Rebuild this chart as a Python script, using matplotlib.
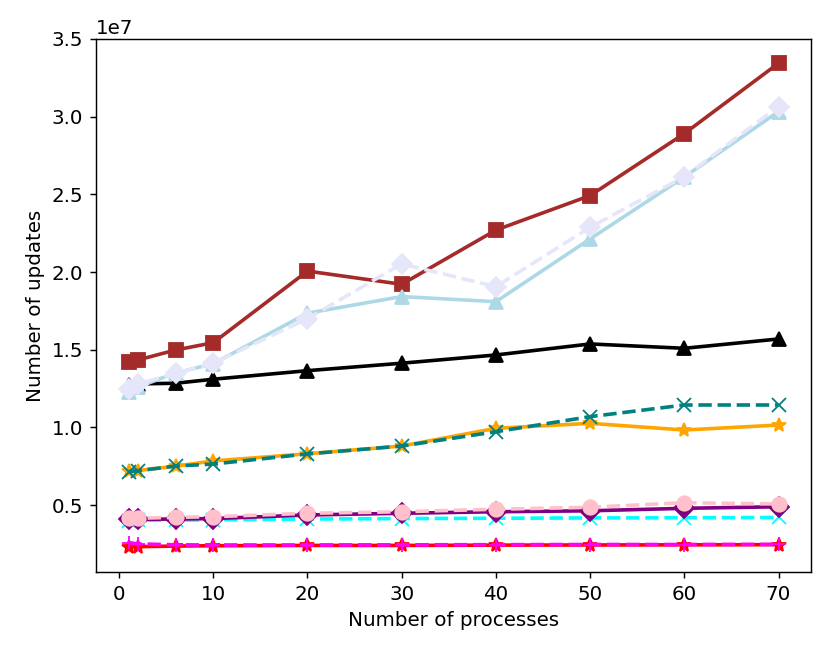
import numpy as np
import matplotlib
matplotlib.use('Agg')
import matplotlib.pyplot as plt

plt.rcParams['font.size'] = 11

procs = [1, 2, 6, 10, 20, 30, 40, 50, 60, 70]

# values in units of 1e7
brown = [1.419, 1.434, 1.498, 1.545, 2.006, 1.921, 2.27, 2.492, 2.891, 3.344]
black = [1.27, 1.28, 1.284, 1.31, 1.365, 1.413, 1.466, 1.537, 1.509, 1.569]
lightblue = [1.23, 1.26, 1.35, 1.41, 1.735, 1.842, 1.809, 2.213, 2.612, 3.033]
lavender = [1.245, 1.279, 1.348, 1.413, 1.70, 2.052, 1.906, 2.288, 2.614, 3.065]
orange = [0.72, 0.722, 0.75, 0.784, 0.83, 0.88, 0.994, 1.026, 0.983, 1.015]
teal = [0.715, 0.721, 0.751, 0.764, 0.829, 0.880, 0.972, 1.069, 1.144, 1.144]
cyan = [0.400, 0.401, 0.403, 0.405, 0.41, 0.413, 0.415, 0.417, 0.418, 0.42]
purple = [0.408, 0.408, 0.41, 0.413, 0.436, 0.447, 0.457, 0.463, 0.479, 0.489]
pink = [0.415, 0.415, 0.421, 0.425, 0.447, 0.457, 0.473, 0.486, 0.515, 0.507]
red = [0.232, 0.232, 0.236, 0.238, 0.24, 0.24, 0.242, 0.243, 0.244, 0.245]
magenta = [0.258, 0.25, 0.244, 0.243, 0.243, 0.244, 0.245, 0.246, 0.246, 0.247]

series = [
    (brown, 'brown', 's', '-'),
    (black, 'black', '^', '-'),
    (lightblue, 'lightblue', '^', '-'),
    (lavender, 'lavender', 'D', '--'),
    (orange, 'orange', '*', '-'),
    (teal, 'teal', 'x', '--'),
    (cyan, 'cyan', 'x', '--'),
    (purple, 'purple', 'D', '-'),
    (pink, 'pink', 'o', '--'),
    (red, 'red', '*', '-'),
    (magenta, 'magenta', '+', '--'),
]

fig = plt.figure(figsize=(830 / 130, 668 / 130), dpi=130)
ax = fig.add_axes([96 / 830, 1 - 572 / 668, (811 - 96) / 830, (572 - 39) / 668])

for vals, c, m, ls in series:
    ax.plot(procs, np.array(vals) * 1e7, color=c, marker=m, linestyle=ls,
            linewidth=2, markersize=8)

ax.set_xlim(-2.45, 73.45)
ax.set_ylim(0.069e7, 3.5e7)
ax.set_xlabel('Number of processes')
ax.set_ylabel('Number of updates')

fig.savefig('out.png', dpi=130)
